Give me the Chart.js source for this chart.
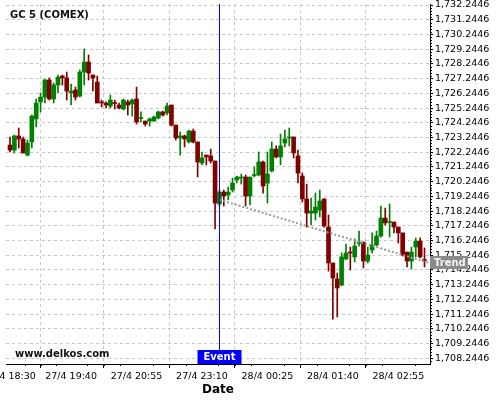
<!DOCTYPE html>
<html><head><meta charset="utf-8">
<script src="https://cdn.jsdelivr.net/npm/chart.js@4.4.0/dist/chart.umd.min.js"></script>
<style>html,body{margin:0;padding:0;background:#fff;}</style>
</head><body>
<canvas id="c" width="500" height="400"></canvas>
<script>
const tickLabels = ['27/4 18:30','27/4 19:40','27/4 20:55','27/4 23:10','28/4 00:25','28/4 01:40','28/4 02:55'];
const tickIdx = [0,14,29,44,59,74,89];
const yTickValues = [1708.2446,1709.2446,1710.2446,1711.2446,1712.2446,1713.2446,1714.2446,1715.2446,1716.2446,1717.2446,1718.2446,1719.2446,1720.2446,1721.2446,1722.2446,1723.2446,1724.2446,1725.2446,1726.2446,1727.2446,1728.2446,1729.2446,1730.2446,1731.2446,1732.2446];

const open = [1722.73,1722.39,1723.35,1723.14,1722.05,1722.94,1724.50,1725.66,1725.99,1727.15,
1725.86,1726.81,1727.42,1727.29,1726.27,1726.47,1726.06,1727.69,1728.37,1727.49,
1727.01,1725.66,1725.59,1725.38,1725.59,1725.45,1725.18,1725.66,1725.52,1725.86,
1724.54,1724.36,1724.36,1724.36,1724.57,1724.98,1724.91,1725.45,1724.09,1723.21,
1723.35,1722.94,1723.68,1722.94,1721.51,1722.05,1721.99,1721.65,1718.73,1719.54,
1719.34,1719.68,1720.36,1720.49,1720.56,1719.27,1720.66,1720.70,1721.58,1720.15,
1720.97,1722.46,1721.92,1722.87,1723.21,1723.28,1721.99,1720.63,1719.07,1718.11,
1718.11,1718.32,1719.07,1717.16,1714.72,1713.63,1713.22,1714.99,1715.46,1715.13,
1716.05,1716.14,1714.85,1715.60,1715.94,1716.55,1717.77,1717.47,1717.50,1717.16,
1716.76,1715.46,1714.85,1715.80,1716.21,1714.92];
const high = [1723.28,1723.41,1723.89,1723.28,1723.07,1724.77,1725.86,1726.27,1727.22,1727.29,
1726.95,1727.49,1727.49,1727.69,1726.88,1726.67,1727.83,1729.26,1728.85,1727.49,
1727.42,1725.79,1725.66,1726.13,1725.79,1725.59,1725.86,1725.79,1725.86,1726.67,
1724.98,1724.36,1724.57,1724.70,1725.04,1725.04,1725.59,1725.45,1724.09,1723.62,
1723.41,1723.75,1723.82,1722.94,1722.26,1722.05,1722.46,1721.65,1719.68,1719.68,
1719.88,1720.49,1720.63,1720.76,1720.70,1720.56,1721.24,1722.26,1721.65,1722.26,
1722.94,1722.67,1723.48,1723.75,1723.89,1723.28,1722.39,1720.83,1720.08,1719.13,
1719.47,1719.68,1719.07,1717.98,1714.72,1714.04,1715.40,1716.01,1715.80,1716.35,
1716.89,1716.14,1715.80,1716.76,1716.89,1718.59,1718.45,1718.73,1717.50,1717.16,
1716.76,1715.46,1715.80,1716.42,1716.42,1715.74];
const low = [1722.26,1722.19,1722.53,1722.19,1721.99,1722.53,1723.96,1724.98,1725.59,1725.79,
1725.59,1726.27,1726.81,1725.79,1725.45,1725.79,1725.99,1726.81,1727.15,1726.40,
1725.59,1725.32,1725.25,1725.25,1725.18,1725.18,1725.11,1724.77,1724.70,1724.16,
1724.30,1724.02,1724.02,1724.36,1724.50,1724.70,1724.77,1724.02,1723.07,1722.05,
1722.60,1722.87,1722.87,1720.56,1721.38,1721.38,1721.51,1717.03,1718.59,1718.59,
1719.00,1719.54,1720.15,1720.08,1718.59,1718.66,1720.56,1720.63,1719.47,1718.79,
1720.90,1721.85,1721.38,1722.60,1722.67,1721.85,1720.15,1718.86,1717.16,1717.30,
1717.64,1717.84,1717.16,1714.17,1710.91,1711.05,1713.16,1714.92,1714.24,1714.79,
1715.87,1714.38,1714.72,1715.40,1715.87,1716.48,1717.30,1716.48,1716.76,1716.08,
1715.19,1714.45,1714.31,1715.13,1715.06,1714.45];
const close = [1722.39,1723.35,1723.14,1722.19,1722.87,1724.70,1725.59,1725.99,1727.15,1725.86,
1726.81,1727.35,1727.29,1726.40,1726.40,1725.99,1727.69,1728.37,1727.62,1727.29,
1725.59,1725.59,1725.45,1725.79,1725.55,1725.25,1725.79,1725.45,1725.79,1724.30,
1724.57,1724.16,1724.50,1724.64,1724.98,1724.77,1725.38,1724.09,1723.21,1723.35,
1723.14,1723.68,1722.94,1721.58,1721.85,1721.92,1721.65,1718.79,1719.54,1719.27,
1719.54,1720.15,1720.56,1720.56,1719.27,1720.56,1720.70,1721.58,1719.95,1720.76,
1722.46,1721.92,1722.67,1723.14,1723.28,1722.19,1720.83,1719.07,1718.11,1718.25,
1718.52,1718.93,1717.23,1714.72,1713.70,1713.02,1715.13,1715.40,1715.40,1715.87,
1716.08,1714.85,1715.26,1715.94,1716.55,1717.77,1717.44,1717.50,1717.16,1716.76,
1715.26,1714.85,1715.46,1716.21,1715.13,1714.89];

const eventIndex = 48;
const trendX = [48, 96.3];
const trendY = [1719.02, 1714.70];

const UP = '#008000', DOWN = '#800000';
const colors = open.map((o, i) => close[i] >= o ? UP : DOWN);
const wickData = open.map((o, i) => ({x: i, y: [low[i], high[i]]}));
const bodyData = open.map((o, i) => ({x: i, y: [o, close[i]]}));
const trendData = trendX.map((v, i) => ({x: v, y: trendY[i]}));

Chart.defaults.font.family = 'DejaVu Sans';
Chart.defaults.color = '#000';

const fmt = v => v.toLocaleString('en-US', {minimumFractionDigits: 4, maximumFractionDigits: 4});

const overlay = {
  id: 'overlay',
  afterDraw(chart) {
    const {ctx, chartArea: a, scales: {x, y}} = chart;
    ctx.save();
    // minor ticks
    ctx.strokeStyle = '#000'; ctx.lineWidth = 1;
    ctx.beginPath();
    for (let i = 0; i < tickIdx.length; i++) {
      const a0 = tickIdx[i], b0 = i + 1 < tickIdx.length ? tickIdx[i + 1] : a0 + 15;
      for (let k = 1; k < 4; k++) {
        const v = a0 + (b0 - a0) * k / 4;
        if (v > x.max) break;
        const px = Math.round(x.getPixelForValue(v)) + 0.5;
        ctx.moveTo(px, a.bottom); ctx.lineTo(px, a.bottom + 2);
      }
    }
    for (let j = 0; j < yTickValues.length; j++) {
      for (let k = -4; k < 5; k++) {
        if (k === 0) continue;
        const v = yTickValues[j] + k * 0.2;
        if (k < 0 && j > 0) continue;
        if (v < y.min || v > y.max) continue;
        const py = Math.round(y.getPixelForValue(v)) + 0.5;
        ctx.moveTo(a.right, py); ctx.lineTo(a.right + 2, py);
      }
    }
    ctx.stroke();
    // event line
    const ex = Math.round(x.getPixelForValue(eventIndex)) + 0.5;
    ctx.strokeStyle = '#0000e0';
    ctx.beginPath(); ctx.moveTo(ex, a.top); ctx.lineTo(ex, a.bottom); ctx.stroke();
    ctx.fillStyle = '#0000ff';
    ctx.fillRect(ex - 22, a.bottom - 14, 44, 14);
    ctx.fillStyle = '#fff';
    ctx.font = 'bold 10px "DejaVu Sans"';
    ctx.textAlign = 'center'; ctx.textBaseline = 'middle';
    ctx.fillText('Event', ex, a.bottom - 6.5);
    // trend label
    const ty = y.getPixelForValue(trendY[1]);
    ctx.fillStyle = '#8a8a8a';
    ctx.fillRect(a.right, Math.round(ty - 7), 38, 13);
    ctx.fillStyle = '#f4f4f4';
    ctx.textAlign = 'left';
    ctx.fillText('Trend', a.right + 4, Math.round(ty - 7) + 7);
    // title & watermark
    ctx.fillStyle = '#111';
    ctx.fillText('GC 5 (COMEX)', 10, 15.5);
    ctx.fillText('www.delkos.com', 15, 354);
    ctx.restore();
  }
};

new Chart(document.getElementById('c'), {
  type: 'bar',
  data: {
    datasets: [
      {type: 'line', data: trendData, borderColor: '#9a9a9a', borderWidth: 2, borderDash: [2, 2], pointRadius: 0, fill: false, order: 0},
      {data: bodyData, backgroundColor: colors, barThickness: 4, grouped: false, minBarLength: 1, borderWidth: 0, order: 1},
      {data: wickData, backgroundColor: colors, barThickness: 1, grouped: false, borderWidth: 0, order: 2}
    ]
  },
  options: {
    responsive: false,
    animation: false,
    layout: {padding: {left: 6, top: 4, right: 0, bottom: 0}},
    plugins: {legend: {display: false}, tooltip: {enabled: false}, title: {display: false}},
    scales: {
      x: {
        type: 'linear', min: -0.92, max: 96.26, offset: false,
        afterBuildTicks: s => { s.ticks = tickIdx.map(v => ({value: v})); },
        afterFit: s => { s.paddingLeft = 0; s.paddingRight = 0; s.height = 36; },
        ticks: {autoSkip: false, maxRotation: 0, padding: 3, font: {size: 9.5}, color: '#000',
          callback: v => { const i = tickIdx.indexOf(v); return i >= 0 ? tickLabels[i] : ''; }},
        grid: {color: '#c8c8c8', tickColor: '#000', tickLength: 4, tickBorderDash: []},
        border: {display: true, color: '#000', width: 1, dash: [3, 3]},
        title: {display: true, text: 'Date', font: {size: 12, weight: 'bold'}, color: '#000', padding: {top: 0, bottom: 3}}
      },
      y: {
        type: 'linear', position: 'right', min: 1707.857, max: 1732.313,
        afterBuildTicks: s => { s.ticks = yTickValues.map(v => ({value: v})); },
        afterFit: s => { s.width = 70; s.paddingTop = 0; s.paddingBottom = 0; },
        ticks: {autoSkip: false, padding: 2, font: {size: 9.5}, color: '#000', callback: v => fmt(v)},
        grid: {color: '#c8c8c8', tickColor: '#000', tickLength: 3, tickBorderDash: []},
        border: {display: true, color: '#000', width: 1, dash: [3, 3]}
      }
    }
  },
  plugins: [overlay]
});
</script>
</body></html>
